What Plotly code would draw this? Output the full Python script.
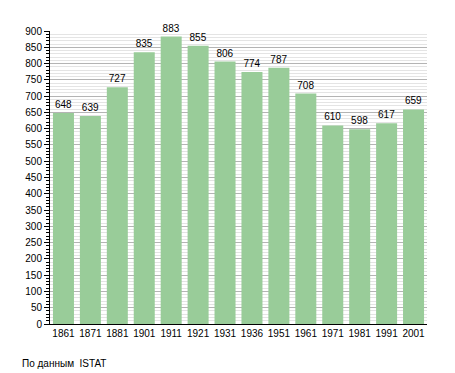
import plotly.graph_objects as go

years = ["1861", "1871", "1881", "1901", "1911", "1921", "1931", "1936", "1951", "1961", "1971", "1981", "1991", "2001"]
population = [648, 639, 727, 835, 883, 855, 806, 774, 787, 708, 610, 598, 617, 659]
footer_text = "По данным  ISTAT"

# page body has an 8px margin; compensate so the plot lands where the reference has it
OFF = 8
W, H = 455, 373
L, R, T, B = 50 - OFF, 28 + OFF, 31 - OFF, 49 + OFF

fig = go.Figure(go.Bar(
    x=years, y=population,
    marker=dict(color="rgb(153,204,153)", line=dict(width=0)),
    text=[str(v) for v in population], textposition="outside",
    textfont=dict(family="Liberation Sans, Arial", size=10, color="black"),
    cliponaxis=False,
))

fig.update_layout(
    width=W, height=H,
    margin=dict(l=L, r=R, t=T, b=B),
    paper_bgcolor="white", plot_bgcolor="white",
    bargap=0.22,
    showlegend=False,
    font=dict(family="Liberation Sans, Arial", size=10, color="black"),
)
fig.update_yaxes(
    range=[0, 900], dtick=50, tick0=0,
    showgrid=True, gridcolor="#b4b4b4", gridwidth=1,
    showline=True, linecolor="black", linewidth=1,
    ticks="outside", ticklen=5, tickcolor="black",
    tickfont=dict(size=10), zeroline=False,
    minor=dict(dtick=10, showgrid=True, gridcolor="#e4e4e4", gridwidth=1,
               ticks="outside", ticklen=3, tickcolor="black"),
)
fig.update_xaxes(
    type="category", showgrid=False,
    showline=True, linecolor="black", linewidth=1,
    ticks="", tickfont=dict(size=10),
)
fig.add_annotation(
    text=footer_text, xref="paper", yref="paper",
    x=(20 - 50) / (W - L - R), y=-(363 - 324) / (H - T - B),
    xanchor="left", yanchor="middle", showarrow=False,
    font=dict(size=10, color="black"),
)

fig.write_html("out.html")
